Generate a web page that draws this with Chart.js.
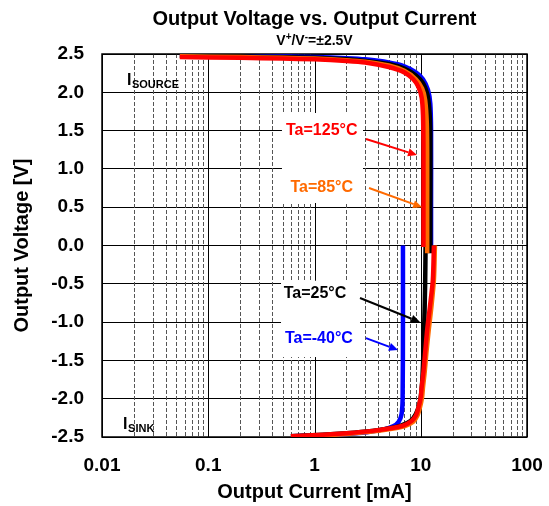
<!DOCTYPE html>
<html lang="en">
<head>
<meta charset="UTF-8">
<title>Output Voltage vs. Output Current</title>
<script src="https://cdn.jsdelivr.net/npm/chart.js"></script>
<style>
  * { margin: 0; padding: 0; box-sizing: border-box; }
  body { background: #fff; }
  #wrap { width: 549px; height: 506px; position: relative; }
</style>
</head>
<body>
<div id="wrap"><canvas id="chart"></canvas></div>
<script>
// curves: [current mA, voltage V]
const src125 = [[0.054,2.46],[0.2,2.45],[0.5,2.44],[1,2.43],[2,2.41],[3,2.39],[5,2.33],[7,2.26],[8.5,2.17],[9.5,2.07],[10.2,1.93],[10.5,1.7],[10.6,1.3],[10.6,0.5],[10.6,-0.02]];
const src85  = [[0.054,2.47],[0.2,2.46],[0.5,2.45],[1,2.44],[2,2.42],[3,2.40],[5,2.35],[7,2.28],[9,2.17],[10.3,2.05],[11,1.9],[11.4,1.6],[11.5,1.2],[11.5,0.5],[11.5,-0.1]];
const src25  = [[0.054,2.48],[0.2,2.47],[0.5,2.46],[1,2.45],[2,2.43],[3,2.41],[5,2.37],[7,2.31],[9,2.22],[10.5,2.12],[11.5,1.98],[12,1.8],[12.3,1.5],[12.3,0.5],[12.3,-0.1]];
const srcM40 = [[0.054,2.48],[0.2,2.475],[0.5,2.47],[1,2.46],[2,2.445],[3,2.43],[5,2.39],[7,2.34],[9,2.26],[10.5,2.17],[11.7,2.03],[12.3,1.85],[12.5,1.5],[12.5,0.5],[12.5,0]];

const snk125 = [[13.3,0],[13.0,-0.45],[12.2,-0.8],[11.5,-1.1],[11.0,-1.4],[10.6,-1.65],[10.2,-1.85],[10.0,-1.98],[9.5,-2.12],[9.0,-2.22],[8.2,-2.29],[6.8,-2.35],[5,-2.39],[3.5,-2.42],[2,-2.45],[1.2,-2.47],[0.6,-2.49]];
const snk85  = [[13.6,0],[13.3,-0.45],[12.6,-0.8],[11.9,-1.1],[11.3,-1.4],[10.9,-1.65],[10.5,-1.85],[10.3,-1.98],[9.8,-2.12],[9.3,-2.22],[8.5,-2.30],[7,-2.36],[5,-2.40],[3.5,-2.43],[2,-2.46],[1.2,-2.48],[0.6,-2.5]];
const snk25  = [[11.1,0],[11.0,-0.5],[10.8,-1.0],[10.6,-1.4],[10.3,-1.8],[9.8,-2.05],[9.0,-2.2],[8.0,-2.29],[6.5,-2.35],[5,-2.39],[3.5,-2.42],[2,-2.45],[1.2,-2.47],[0.6,-2.49]];
const snkM40 = [[6.8,0],[6.8,-1],[6.75,-2.0],[6.6,-2.2],[6.2,-2.3],[5.5,-2.36],[4.5,-2.40],[3,-2.44],[1.5,-2.47],[0.6,-2.49]];

const tempLabels = ['Ta=125°C', 'Ta=85°C', 'Ta=25°C', 'Ta=-40°C'];
const tempColors = ['#FF0000', '#FF6A00', '#000000', '#0000FF'];
const yTicks = [-2.5, -2, -1.5, -1, -0.5, 0, 0.5, 1, 1.5, 2, 2.5];

// label text centres and arrows, in data units
const labelPos = [[1.17, 1.50], [1.17, 0.76], [1.01, -0.63], [1.10, -1.21]];
const arrows = [
  [[3.05, 1.39], [9.22, 1.18]],
  [[3.26, 0.75], [10.3, 0.50]],
  [[2.68, -0.685], [9.84, -1.0]],
  [[3.05, -1.21], [6.11, -1.364]]
];
const labelBoxes = [[0.494, 1.73, 2.86, 0.555], [0.484, -0.46, 2.68, -1.456]];

const FONT = "'Liberation Sans', Arial, sans-serif";

const gridX = [];
[0.01, 0.1, 1, 10].forEach(d => { for (let k = 1; k <= 9; k++) gridX.push(k * d); });
gridX.push(100);

const toXY = arr => arr.map(p => ({ x: p[0], y: p[1] }));

function line(data, color) {
  return {
    data: toXY(data),
    borderColor: color,
    borderWidth: 4.5,
    showLine: true,
    pointRadius: 0,
    tension: 0.25,
    fill: false
  };
}

const isDecade = v => Math.abs(Math.log10(v) - Math.round(Math.log10(v))) < 1e-9;

const decor = {
  id: 'decor',
  beforeDatasetsDraw(chart) {
    const { ctx, chartArea: a, scales: { x, y } } = chart;
    ctx.save();
    gridX.forEach(v => {
      const px = Math.round(x.getPixelForValue(v)) + 0.5;
      const major = isDecade(v);
      ctx.beginPath();
      ctx.setLineDash(major ? [] : [4, 2]);
      ctx.strokeStyle = major ? '#000' : '#555';
      ctx.lineWidth = 1;
      ctx.moveTo(px, a.top);
      ctx.lineTo(px, a.bottom);
      ctx.stroke();
    });
    ctx.setLineDash([]);
    ctx.strokeStyle = '#000';
    ctx.lineWidth = 1.5;
    ctx.strokeRect(a.left, a.top, a.right - a.left, a.bottom - a.top);

    // white boxes behind the labels
    ctx.fillStyle = '#fff';
    labelBoxes.forEach(b => {
      const x0 = x.getPixelForValue(b[0]), y0 = y.getPixelForValue(b[1]);
      const x1 = x.getPixelForValue(b[2]), y1 = y.getPixelForValue(b[3]);
      ctx.fillRect(x0, y0, x1 - x0, y1 - y0);
    });

    ctx.font = 'bold 16px ' + FONT;
    ctx.textAlign = 'center';
    ctx.textBaseline = 'middle';
    tempLabels.forEach((t, i) => {
      ctx.fillStyle = tempColors[i];
      ctx.fillText(t, x.getPixelForValue(labelPos[i][0]), y.getPixelForValue(labelPos[i][1]));
    });

    // I_SOURCE / I_SINK
    const sub = (main, s, xv, yv) => {
      const px = x.getPixelForValue(xv), py = y.getPixelForValue(yv);
      ctx.fillStyle = '#000';
      ctx.textAlign = 'left';
      ctx.textBaseline = 'alphabetic';
      ctx.font = 'bold 16px ' + FONT;
      ctx.fillText(main, px, py);
      const w = ctx.measureText(main).width;
      ctx.font = 'bold 11px ' + FONT;
      ctx.fillText(s, px + w + 0.5, py + 3);
    };
    sub('I', 'SOURCE', 0.0172, 2.095);
    sub('I', 'SINK', 0.0158, -2.40);
    ctx.restore();
  },
  afterDatasetsDraw(chart) {
    const { ctx, scales: { x, y } } = chart;
    ctx.save();
    arrows.forEach((ar, i) => {
      const x0 = x.getPixelForValue(ar[0][0]), y0 = y.getPixelForValue(ar[0][1]);
      const x1 = x.getPixelForValue(ar[1][0]), y1 = y.getPixelForValue(ar[1][1]);
      const ang = Math.atan2(y1 - y0, x1 - x0);
      const hl = 9, hw = 4;
      ctx.strokeStyle = tempColors[i];
      ctx.fillStyle = tempColors[i];
      ctx.lineWidth = 2;
      ctx.beginPath();
      ctx.moveTo(x0, y0);
      ctx.lineTo(x1 - hl * Math.cos(ang), y1 - hl * Math.sin(ang));
      ctx.stroke();
      ctx.beginPath();
      ctx.moveTo(x1, y1);
      ctx.lineTo(x1 - hl * Math.cos(ang) + hw * Math.sin(ang), y1 - hl * Math.sin(ang) - hw * Math.cos(ang));
      ctx.lineTo(x1 - hl * Math.cos(ang) - hw * Math.sin(ang), y1 - hl * Math.sin(ang) + hw * Math.cos(ang));
      ctx.closePath();
      ctx.fill();
    });
    ctx.restore();
  },
  afterDraw(chart) {
    const { ctx, chartArea: a } = chart;
    const cx = (a.left + a.right) / 2;
    ctx.save();
    ctx.fillStyle = '#000';
    ctx.textBaseline = 'middle';
    ctx.textAlign = 'center';
    ctx.font = 'bold 20px ' + FONT;
    ctx.fillText('Output Voltage vs. Output Current', cx, 19);

    // V+/V-=±2.5V with superscripts
    const parts = [['V', 0], ['+', 1], ['/V', 0], ['-', 1], ['=±2.5V', 0]];
    const big = 'bold 14px ' + FONT, small = 'bold 10px ' + FONT;
    let total = 0;
    parts.forEach(p => { ctx.font = p[1] ? small : big; total += ctx.measureText(p[0]).width; });
    let px = cx - total / 2;
    ctx.textAlign = 'left';
    parts.forEach(p => {
      ctx.font = p[1] ? small : big;
      ctx.fillText(p[0], px, p[1] ? 37 : 41);
      px += ctx.measureText(p[0]).width;
    });
    ctx.restore();
  }
};

new Chart(document.getElementById('chart'), {
  type: 'scatter',
  data: {
    datasets: [
      line(src125, tempColors[0]), line(snk125, tempColors[0]),
      line(src85, tempColors[1]), line(snk85, tempColors[1]),
      line(src25, tempColors[2]), line(snk25, tempColors[2]),
      line(srcM40, tempColors[3]), line(snkM40, tempColors[3])
    ]
  },
  plugins: [decor],
  options: {
    responsive: true,
    maintainAspectRatio: false,
    animation: false,
    layout: { padding: { top: 54, right: 22, left: 0, bottom: 0 } },
    plugins: { legend: { display: false }, tooltip: { enabled: false } },
    scales: {
      x: {
        type: 'logarithmic',
        min: 0.01,
        max: 100,
        grid: { display: false },
        border: { display: false },
        afterBuildTicks: s => { s.ticks = gridX.map(v => ({ value: v })); },
        ticks: {
          autoSkip: false,
          maxRotation: 0,
          padding: 9,
          color: '#000',
          font: { family: FONT, size: 19, weight: 'bold' },
          callback: v => isDecade(v) ? String(v) : ''
        },
        title: {
          display: true,
          text: 'Output Current [mA]',
          color: '#000',
          font: { family: FONT, size: 20, weight: 'bold' },
          padding: { top: 4, bottom: 2 }
        },
        afterFit: s => { s.height = 69; s.paddingRight = 0; s.paddingLeft = 0; }
      },
      y: {
        min: -2.5,
        max: 2.5,
        afterBuildTicks: s => { s.ticks = yTicks.map(v => ({ value: v })); },
        grid: { color: '#000', lineWidth: 1, drawTicks: false },
        border: { display: false },
        ticks: {
          padding: 18,
          color: '#000',
          font: { family: FONT, size: 19, weight: 'bold' },
          callback: v => v.toFixed(1)
        },
        title: {
          display: true,
          text: 'Output Voltage [V]',
          color: '#000',
          font: { family: FONT, size: 20, weight: 'bold' },
          padding: { top: 10, bottom: 0 }
        },
        afterFit: s => { s.width = 102; }
      }
    }
  }
});
</script>
</body>
</html>
